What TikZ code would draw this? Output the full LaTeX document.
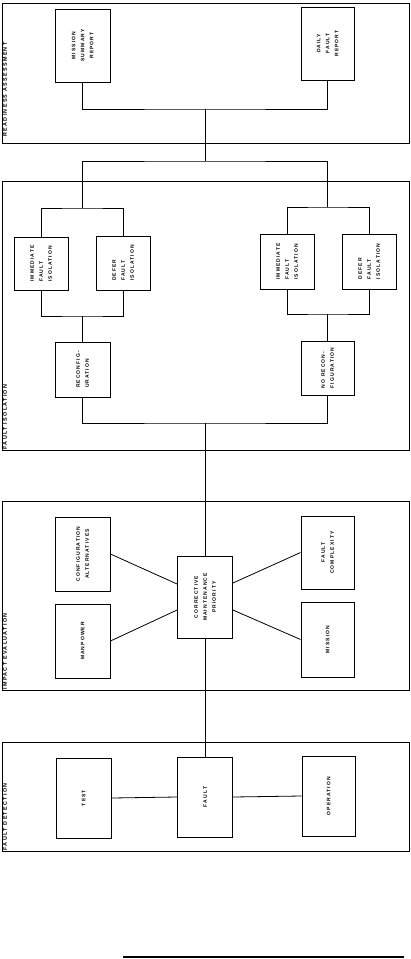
\documentclass[tikz,border=0pt]{standalone}
\usepackage{fontspec}
\setmainfont{Liberation Sans}
\usepackage{graphicx}
\newcommand\vtx[2][c]{\rotatebox{90}{\begin{tabular}{@{}#1@{}}#2\end{tabular}}}
\newcommand\ws{\hspace{0.55em}}
\begin{document}
\begin{tikzpicture}[x=1pt,y=-1pt,
 box/.style={draw, line width=0.9pt, inner sep=0pt, font=\bfseries\fontsize{5}{9}\selectfont\addfontfeature{LetterSpace=22}},
 panel/.style={draw, line width=1pt, inner sep=0pt},
 lab/.style={inner sep=1pt, anchor=south west, font=\bfseries\fontsize{5.4}{6}\selectfont\addfontfeature{LetterSpace=24}},
 wire/.style={line width=0.8pt}]
\useasboundingbox (0,0) rectangle (411,959);

% ---------- Readiness assessment
\node[panel, minimum width=407pt, minimum height=140pt] (pra) at (205.5,73) {};
\node[lab] (lra) at ([yshift=6pt]pra.south west) {\vtx{READINESS\ws ASSESSMENT}};
\node[box, minimum width=55pt, minimum height=73pt] (msr) at (82.5,45.5) {\vtx{MISSION\\SUMMARY\\REPORT}};
\node[box, minimum width=53pt, minimum height=73pt] (dfr) at (327.5,43.5) {\vtx{DAILY\\FAULT\\REPORT}};
\coordinate (j1) at (205,109);
\coordinate (j2) at (205,161);
\draw[wire] (msr.south) |- (j1) -| (dfr.south);
\draw[wire] (j1) -- (j2);

% ---------- Fault isolation
\node[panel, minimum width=407pt, minimum height=269pt] (pfi) at (205.5,315.5) {};
\node[lab] (lfi) at (pfi.south west) {\vtx{FAULT\ws ISOLATION}};
\node[box, minimum width=54pt, minimum height=53pt] (ifi1) at (41,263.5) {\vtx[l]{IMMEDIATE\\FAULT\\ISOLATION}};
\node[box, minimum width=54pt, minimum height=54pt] (dfi1) at (123,263) {\vtx[l]{DEFER\\FAULT\\ISOLATION}};
\node[box, minimum width=54pt, minimum height=55pt] (ifi2) at (287,261.5) {\vtx[l]{IMMEDIATE\\FAULT\\ISOLATION}};
\node[box, minimum width=54pt, minimum height=55pt] (dfi2) at (369,261.5) {\vtx[l]{DEFER\\FAULT\\ISOLATION}};
\node[box, minimum width=55pt, minimum height=55pt] (rec) at (82.5,369.5) {\vtx[l]{RECONFIG-\\URATION}};
\node[box, minimum width=53pt, minimum height=54pt] (norec) at (327.5,368) {\vtx[l]{NO\ws RECON-\\FIGURATION}};
\coordinate (b1) at (82.5,208);
\coordinate (b2) at (327.5,207);
\coordinate (c1) at (82.5,316);
\coordinate (c2) at (327.5,314);
\coordinate (j3) at (205,423);
\draw[wire] (b1) |- (j2) -| (b2);
\draw[wire] (ifi1.north) |- (b1) -| (dfi1.north);
\draw[wire] (ifi2.north) |- (b2) -| (dfi2.north);
\draw[wire] (ifi1.south) |- (c1) -| (dfi1.south);
\draw[wire] (ifi2.south) |- (c2) -| (dfi2.south);
\draw[wire] (c1) -- (rec.north);
\draw[wire] (c2) -- (norec.north);
\draw[wire] (rec.south) |- (j3) -| (norec.south);

% ---------- Impact evaluation
\node[panel, minimum width=407pt, minimum height=189pt] (pie) at (205.5,595.5) {};
\node[lab] (lie) at (pie.south west) {\vtx{IMPACT\ws EVALUATION}};
\node[box, minimum width=55pt, minimum height=74pt] (cfg) at (82.5,554) {\vtx{CONFIGURATION\\ALTERNATIVES}};
\node[box, minimum width=55pt, minimum height=74pt] (man) at (82.5,641) {\vtx{MANPOWER}};
\node[box, minimum width=55pt, minimum height=82pt] (cmp) at (205,597) {\vtx{CORRECTIVE\\MAINTENANCE\\PRIORITY}};
\node[box, minimum width=53pt, minimum height=73pt] (fcx) at (327.5,552.5) {\vtx{FAULT\\COMPLEXITY}};
\node[box, minimum width=53pt, minimum height=75pt] (mis) at (327.5,639.5) {\vtx{MISSION}};
\draw[wire] (j3) -- (cmp.north);
\draw[wire] (cfg.east) -- ([yshift=13pt]cmp.west);
\draw[wire] (man.east) -- ([yshift=-13pt]cmp.west);
\draw[wire] (fcx.west) -- ([yshift=14pt]cmp.east);
\draw[wire] (mis.west) -- ([yshift=-13pt]cmp.east);

% ---------- Fault detection
\node[panel, minimum width=407pt, minimum height=109pt] (pfd) at (205.5,796.5) {};
\node[lab] (lfd) at (pfd.south west) {\vtx{FAULT\ws DETECTION}};
\node[box, minimum width=55pt, minimum height=80pt] (test) at (83.5,798) {\vtx{TEST}};
\node[box, minimum width=55pt, minimum height=80pt] (fault) at (205,797) {\vtx{FAULT}};
\node[box, minimum width=53pt, minimum height=80pt] (oper) at (328.5,796) {\vtx{OPERATION}};
\draw[wire] (cmp.south) -- (fault.north);
\draw[wire] (test.east) -- (fault.west);
\draw[wire] (fault.east) -- (oper.west);

% ---------- rule at the foot
\coordinate (r1) at (123,957);
\coordinate (r2) at (404,957);
\draw[line width=2pt] (r1) -- (r2);
\end{tikzpicture}
\end{document}
